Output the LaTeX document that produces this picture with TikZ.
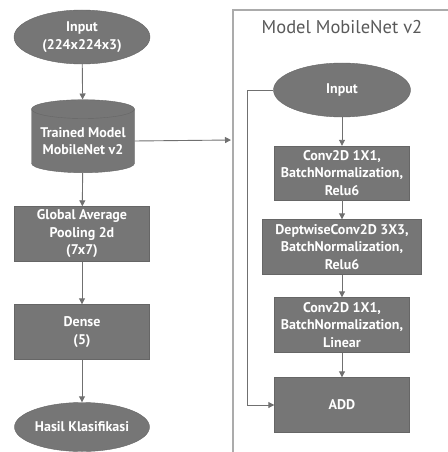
\documentclass[tikz,border=0pt]{standalone}
\usepackage{fontspec}
\setmainfont{PT Sans}
\usepackage{tikz}
\usetikzlibrary{arrows.meta,shapes,positioning,calc}
\definecolor{BlockGray}{HTML}{767676}
\definecolor{EdgeGray}{HTML}{666666}
\definecolor{LineGray}{HTML}{707070}
\definecolor{FrameGray}{HTML}{ABABAB}
\definecolor{TitleGray}{HTML}{595959}

\begin{document}
\begin{tikzpicture}[x=1pt, y=-1pt,
    block/.style={draw=EdgeGray, fill=BlockGray, text=white, align=center,
                  font=\fontsize{14}{17.5}\selectfont\bfseries, inner sep=0pt,
                  minimum width=135pt, minimum height=55pt},
    term/.style={block, ellipse},
    store/.style={block, cylinder, shape border rotate=90, aspect=0.22},
    flow/.style={-{Triangle[length=6pt, width=6pt]}, LineGray, line width=0.9pt},
  ]
    \useasboundingbox (0,0) rectangle (447,452);
    % MobileNet frame
    \draw[FrameGray, line width=1.2pt] (233,10) rectangle (470,480);
    \node[font=\fontsize{18.5}{22}\selectfont, text=TitleGray] (title) at (342,27) {Model MobileNet v2};
    % Left column
    \node[term, minimum width=136pt, minimum height=54pt] (inL) at (82,37) {Input\\(224x224x3)};
    \node[store, minimum width=103pt, minimum height=73pt] (model) at (83,141) {Trained Model\\MobileNet v2};
    \node[block] (gap) at (82,234) {Global Average\\Pooling 2d\\(7x7)};
    \node[block] (dense) at (82,332) {Dense\\(5)};
    \node[term, minimum height=49pt] (out) at (82,427) {Hasil Klasifikasi};
    \coordinate (frameIn) at (231,140);
    % Right column
    \node[term, minimum width=137pt, minimum height=54pt] (inR) at (342,90) {Input};
    \node[block, minimum height=54pt] (conv1) at (342,173) {Conv2D 1X1,\\BatchNormalization,\\Relu6};
    \node[block, minimum width=159pt] (dw) at (342,247) {DeptwiseConv2D 3X3,\\BatchNormalization,\\Relu6};
    \node[block] (conv2) at (342,325) {Conv2D 1X1,\\BatchNormalization,\\Linear};
    \node[block] (add) at (342,405) {ADD};
    % Arrows
    \draw[flow] (inL) -- (model);
    \draw[flow] (model) -- (gap);
    \draw[flow] (gap) -- (dense);
    \draw[flow] (dense) -- (out);
    \draw[flow] (model.east) -- (frameIn);
    \draw[flow] (inR) -- (conv1);
    \draw[flow] (conv1) -- (dw);
    \draw[flow] (dw) -- (conv2);
    \draw[flow] (conv2) -- (add);
    \draw[flow] (inR.west) -- (247,90) |- (add.west);
  \end{tikzpicture}
\end{document}
